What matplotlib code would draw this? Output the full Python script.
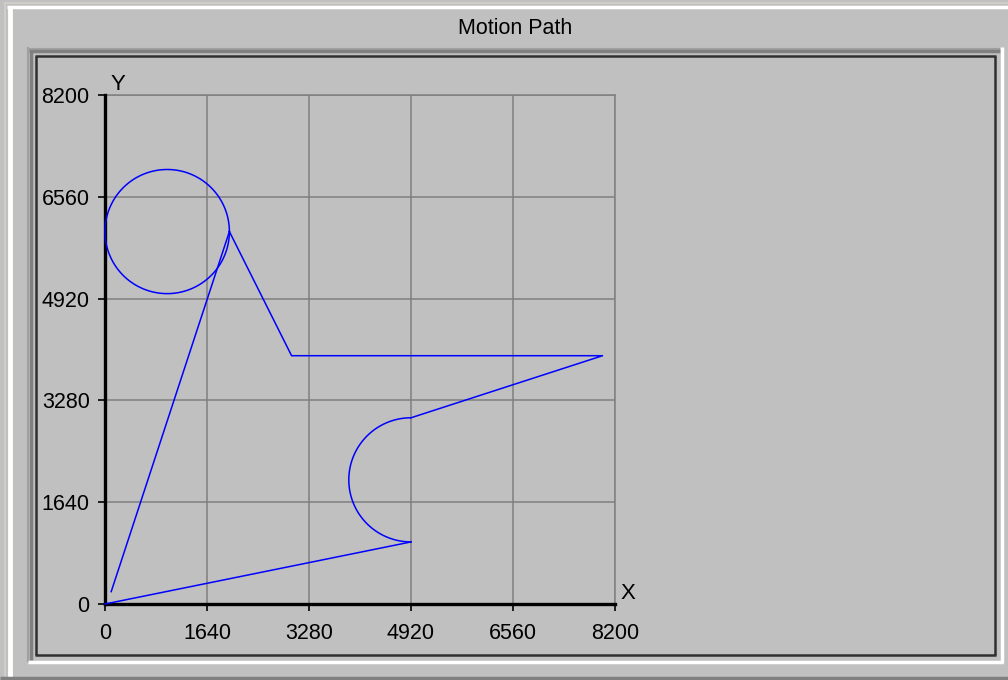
import numpy as np
import matplotlib
matplotlib.use("Agg")
import matplotlib.pyplot as plt
from matplotlib.lines import Line2D

plt.rcParams['font.family'] = ['Liberation Sans', 'DejaVu Sans']

# path segments (machine units)
line1_x = [0, 4920]
line1_y = [0, 1000]
arc1_center = (4920, 2000)
arc1_radius = 1000
line2_x = [4920, 8000, 3000, 2000]
line2_y = [3000, 4000, 4000, 6000]
circle_center = (1000, 6000)
circle_radius = 1000
line3_x = [2000, 100]
line3_y = [6000, 200]

ticks = [0, 1640, 3280, 4920, 6560, 8200]
title = "Motion Path"

W, H = 1008, 680
bg = "#c0c0c0"
fig = plt.figure(figsize=(W / 100, H / 100), dpi=100, facecolor=bg)

# window chrome drawn in pixel coordinates
frame = fig.add_axes([0, 0, 1, 1], zorder=0)
frame.set_xlim(0, W)
frame.set_ylim(H, 0)
frame.axis("off")


def hline(y, x0, x1, c, lw):
    frame.add_line(Line2D([x0, x1], [y, y], color=c, lw=lw, solid_capstyle="butt"))


def vline(x, y0, y1, c, lw):
    frame.add_line(Line2D([x, x], [y0, y1], color=c, lw=lw, solid_capstyle="butt"))


# outer window edge
hline(3, 4, W, "#d4d0c8", 1.2)
vline(5, 3, H, "#d4d0c8", 1.2)
hline(7, 7, W, "white", 2.5)
vline(9.5, 7, H, "white", 3.5)
hline(678, 0, W, "#808080", 2.5)
# sunken panel
hline(48.5, 27, 1000, "#a0a0a0", 1.5)
vline(28, 47, 662, "#a0a0a0", 1.5)
hline(51, 29, 1000, "#808080", 2.5)
vline(31, 50, 660, "#808080", 2.5)
hline(661.5, 28, 1003, "white", 2.5)
vline(1001.5, 47, 663, "white", 2.5)
hline(56, 35, 996, "#303030", 1.8)
vline(35.5, 56, 655, "#303030", 1.8)
hline(654.5, 35, 996, "#303030", 1.8)
vline(995, 56, 655, "#303030", 1.8)
frame.text(515, 28, title, ha="center", va="center", fontsize=15.5)

# plot area
ax = fig.add_axes([105 / W, (H - 604) / H, 510 / W, 509 / H], zorder=1)
ax.set_facecolor("none")
ax.set_xlim(0, 8200)
ax.set_ylim(0, 8200)
ax.set_xticks(ticks)
ax.set_yticks(ticks)
ax.grid(True, color="#808080", lw=1.1)
ax.set_axisbelow(True)
for s in ["top", "right"]:
    ax.spines[s].set_color("#808080")
    ax.spines[s].set_linewidth(1.1)
for s in ["left", "bottom"]:
    ax.spines[s].set_color("black")
    ax.spines[s].set_linewidth(2.4)
    ax.spines[s].set_zorder(3)
ax.tick_params(direction="out", length=5, width=1.2, color="black",
               labelsize=15.5)
ax.tick_params(axis="x", pad=9)
ax.tick_params(axis="y", pad=6)

blue = "#0000ff"
ax.plot(line1_x, line1_y, color=blue, lw=1.1, zorder=4, clip_on=False)
t = np.linspace(-np.pi / 2, -3 * np.pi / 2, 120)
ax.plot(arc1_center[0] + arc1_radius * np.cos(t),
        arc1_center[1] + arc1_radius * np.sin(t), color=blue, lw=1.1, zorder=4)
ax.plot(line2_x, line2_y, color=blue, lw=1.1, zorder=4)
t = np.linspace(0, 2 * np.pi, 240)
ax.plot(circle_center[0] + circle_radius * np.cos(t),
        circle_center[1] + circle_radius * np.sin(t), color=blue, lw=1.1,
        zorder=4, clip_on=False)
ax.plot(line3_x, line3_y, color=blue, lw=1.1, zorder=4)

ax.text(0.01, 1.0, "Y", transform=ax.transAxes, ha="left", va="bottom", fontsize=16)
ax.text(1.01, 0.0, "X", transform=ax.transAxes, ha="left", va="bottom", fontsize=16)

fig.savefig("out.png", dpi=100, facecolor=bg)
